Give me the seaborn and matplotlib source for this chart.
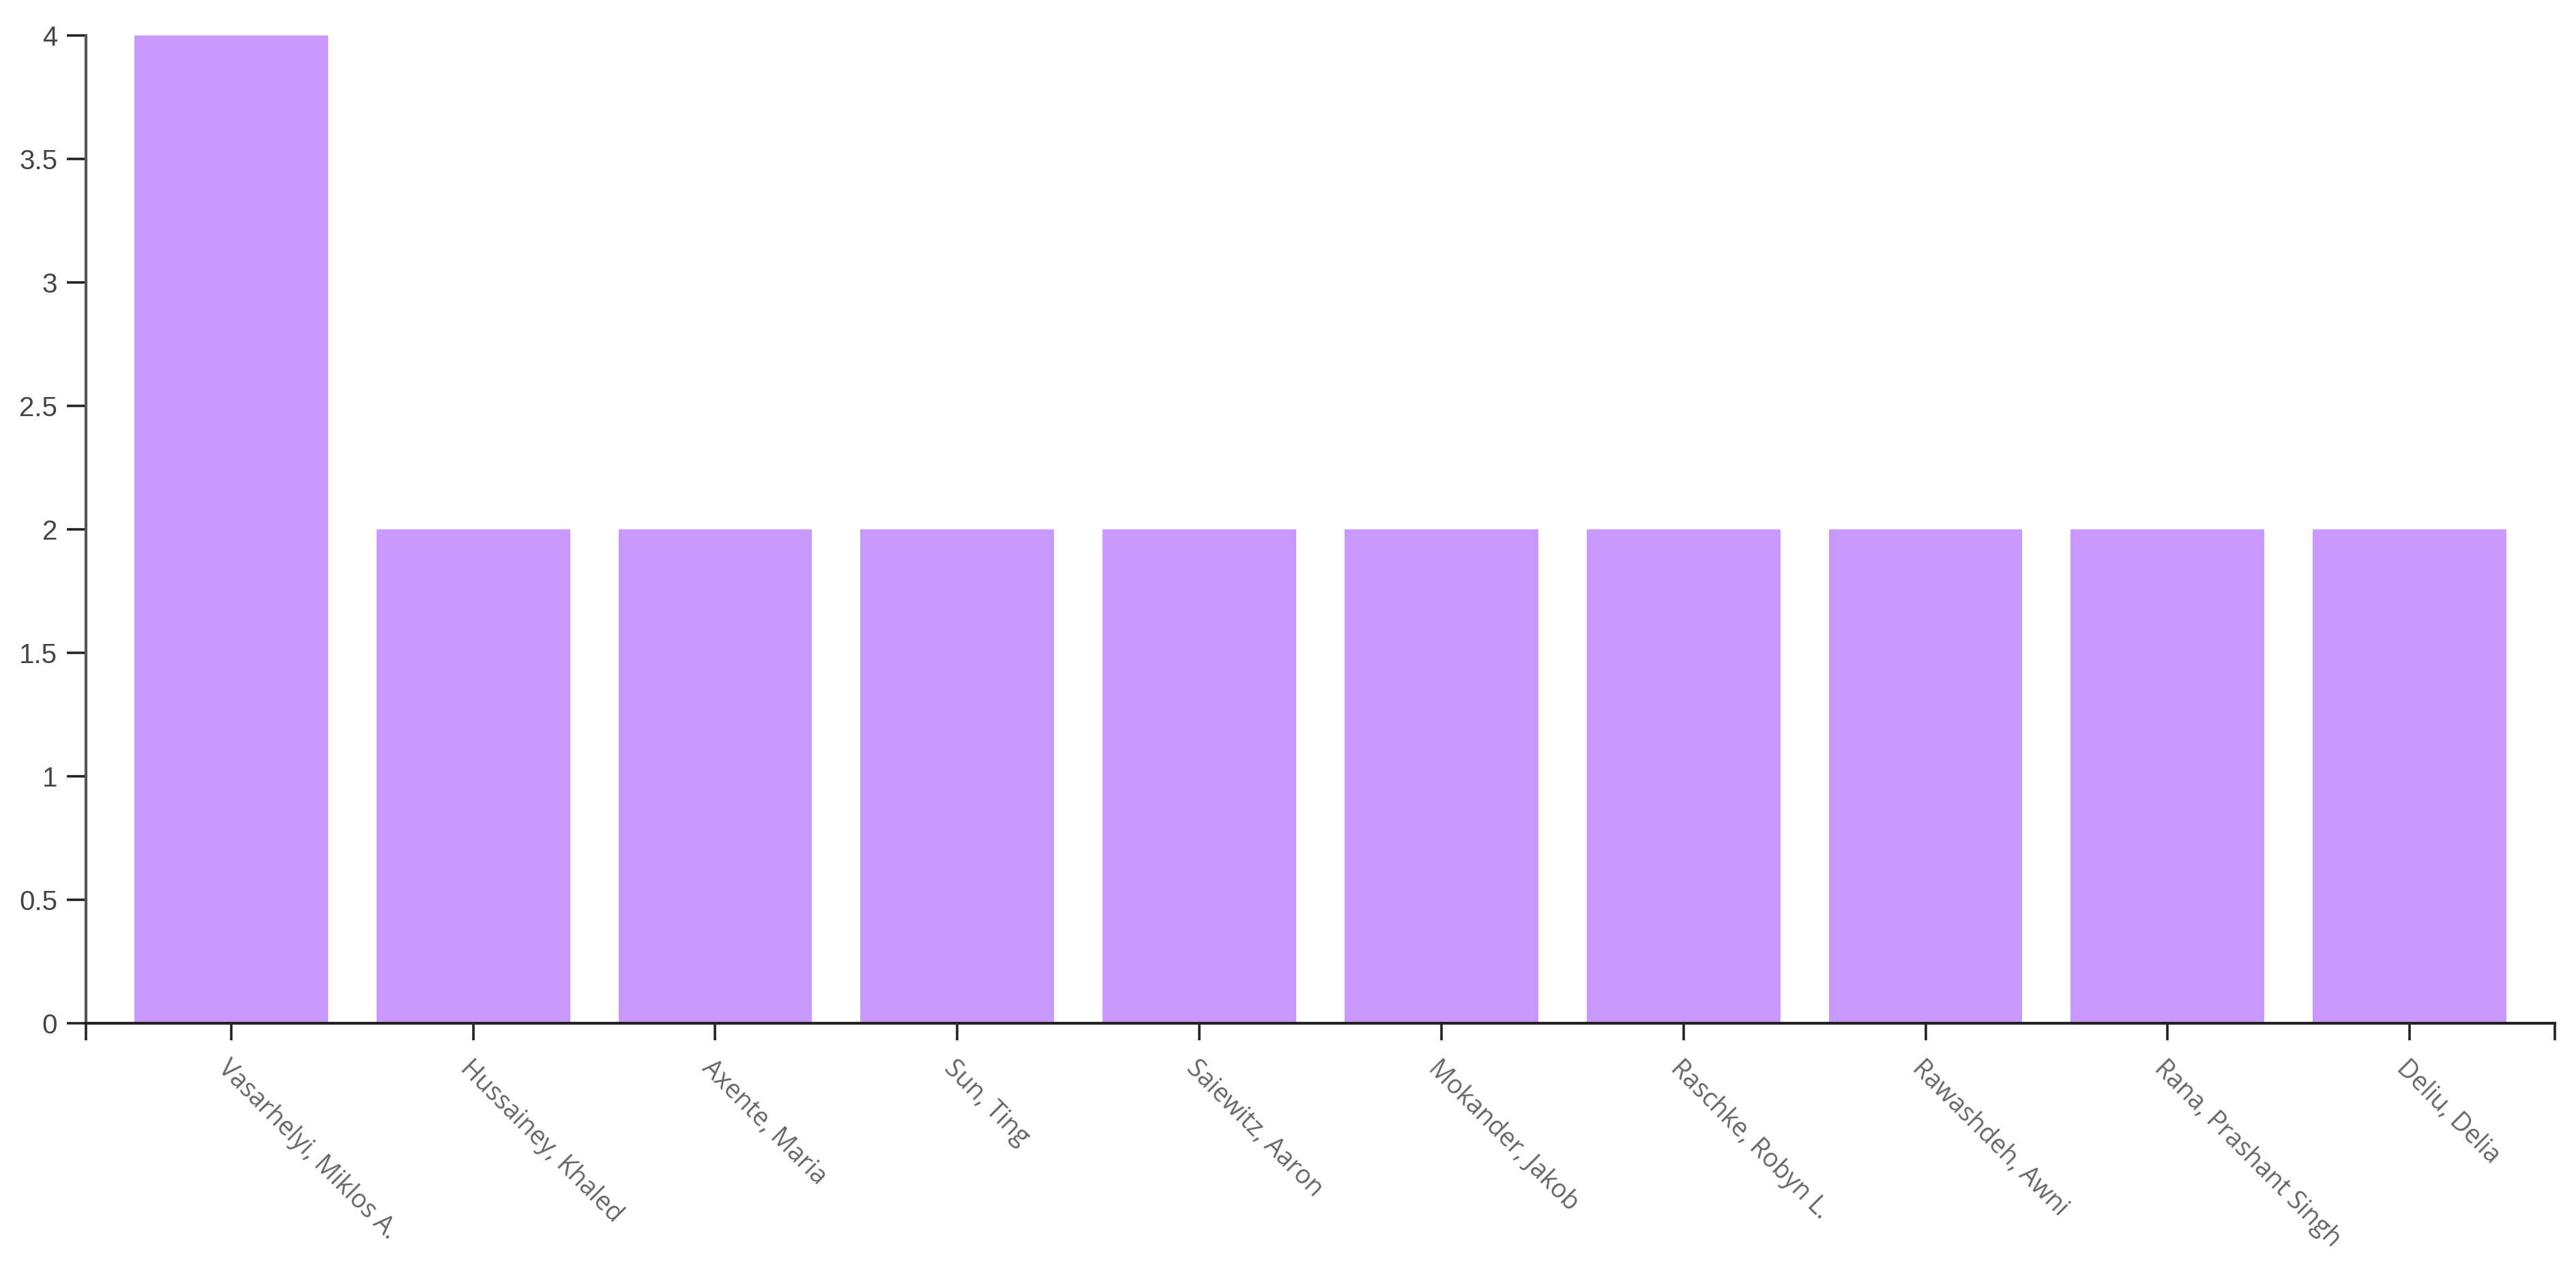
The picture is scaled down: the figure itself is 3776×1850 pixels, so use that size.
import matplotlib
matplotlib.use("Agg")
import matplotlib.pyplot as plt
import seaborn as sns
import pandas as pd

names = ["Vasarhelyi, Miklos A.", "Hussainey, Khaled", "Axente, Maria", "Sun, Ting",
         "Saiewitz, Aaron", "Mokander, Jakob", "Raschke, Robyn L.", "Rawashdeh, Awni",
         "Rana, Prashant Singh", "Deliu, Delia"]
counts = [4, 2, 2, 2, 2, 2, 2, 2, 2, 2]
y_ticks = [0, 0.5, 1, 1.5, 2, 2.5, 3, 3.5, 4]
y_tick_labels = ["0", "0.5", "1", "1.5", "2", "2.5", "3", "3.5", "4"]

sns.set_style("white")
plt.rcParams['font.family'] = ['Liberation Sans', 'DejaVu Sans']

df = pd.DataFrame({"name": names, "count": counts})

W, H, DPI = 3776, 1850, 100
fig = plt.figure(figsize=(W / DPI, H / DPI), dpi=DPI)
ax = fig.add_axes([126 / W, 1 - 1500 / H, (3745 - 126) / W, (1500 - 52) / H])

sns.barplot(data=df, x="name", y="count", color="#c899ff", width=0.8,
            saturation=1, ax=ax, edgecolor="none")

ax.set_xlim(-0.6, 9.6)
ax.set_ylim(0, 4)
ax.set_yticks(y_ticks)
ax.set_yticklabels(y_tick_labels, fontsize=29, color="#444444")
ax.set_xticks(range(len(names)))
ax.set_xticklabels(names, rotation=-45, ha="left", va="top", rotation_mode="anchor",
                   fontsize=27, color="#666666", family=["Open Sans", "DejaVu Sans"])
ax.set_xticks([-0.6, 9.6], minor=True)
ax.tick_params(axis="x", which="both", direction="out", length=18, width=2.6,
               color="#222222", bottom=True, pad=16)
ax.tick_params(axis="y", direction="out", length=20, width=2.6, color="#222222",
               left=True, pad=10)
ax.set_xlabel("")
ax.set_ylabel("")
sns.despine(ax=ax)
for s in ("left", "bottom"):
    ax.spines[s].set_linewidth(3.0)
ax.spines["left"].set_color("#555555")
ax.spines["bottom"].set_color("#222222")

fig.savefig("out.png", dpi=DPI, facecolor="white")
